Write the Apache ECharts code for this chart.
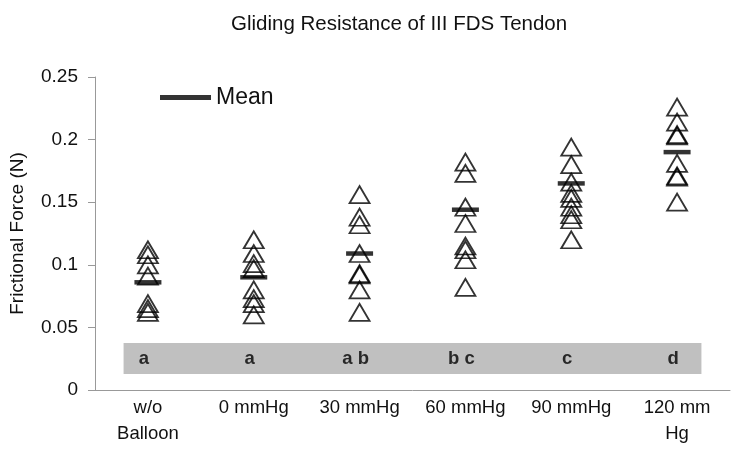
<!DOCTYPE html>
<html>
<head>
<meta charset="utf-8">
<script src="https://cdn.jsdelivr.net/npm/echarts@6/dist/echarts.min.js"></script>
<style>
  html, body { margin: 0; padding: 0; background: #fff; }
  #chart { width: 738px; height: 466px; }
</style>
</head>
<body>
<div id="chart"></div>
<script>
// groups on the x axis
const categories = ['w/o\nBalloon', '0 mmHg', '30 mmHg', '60 mmHg', '90 mmHg', '120 mm\nHg']
// frictional force of each specimen (N)
const forces = [
  [0.112, 0.108, 0.100, 0.091, 0.069, 0.065, 0.062],
  [0.120, 0.109, 0.101, 0.097, 0.080, 0.073, 0.069, 0.060],
  [0.156, 0.138, 0.132, 0.109, 0.093, 0.092, 0.080, 0.062],
  [0.182, 0.173, 0.146, 0.133, 0.115, 0.112, 0.104, 0.082],
  [0.194, 0.180, 0.166, 0.157, 0.153, 0.146, 0.140, 0.136, 0.120],
  [0.226, 0.214, 0.204, 0.203, 0.181, 0.171, 0.170, 0.150]
]
const means = [0.086, 0.090, 0.109, 0.144, 0.165, 0.190]
// significance groups shown in the grey band
const groupLetters = ['a', 'a', 'a b', 'b c', 'c', 'd']
const letterLevel = 0.025
const yTicks = { min: 0, max: 0.25, interval: 0.05 }

const font = 'Liberation Sans, Arial, sans-serif'

const pointData = []
forces.forEach((list, i) => {
  list.forEach(v => pointData.push([i, v]))
})

const chart = echarts.init(document.getElementById('chart'))
chart.setOption({
  animation: false,
  backgroundColor: '#fff',
  textStyle: { fontFamily: font },
  title: {
    text: 'Gliding Resistance of III FDS Tendon',
    left: 226,
    top: 9,
    textStyle: { fontFamily: font, fontSize: 20.5, fontWeight: 'normal', color: '#111' }
  },
  legend: {
    data: ['Mean'],
    left: 155,
    top: 81,
    icon: 'rect',
    itemWidth: 51,
    itemHeight: 5,
    textStyle: { fontFamily: font, fontSize: 23, color: '#111' }
  },
  grid: { left: 95, right: 8, top: 77, bottom: 76, containLabel: false, outerBoundsMode: 'none' },
  xAxis: [
    {
      type: 'category',
      data: categories,
      boundaryGap: true,
      axisLine: { lineStyle: { color: '#999' } },
      axisTick: { length: 5, lineStyle: { color: '#999' } },
      axisLabel: { fontFamily: font, fontSize: 18.5, color: '#111', lineHeight: 26, margin: 5, interval: 0 }
    },
    {
      // hidden linear axis, only used to place the grey band
      type: 'value',
      min: 0,
      max: 6,
      show: false
    }
  ],
  yAxis: {
    type: 'value',
    min: yTicks.min,
    max: yTicks.max,
    interval: yTicks.interval,
    name: 'Frictional Force (N)',
    nameLocation: 'middle',
    nameGap: 68,
    nameTextStyle: { fontFamily: font, fontSize: 19, color: '#111' },
    splitLine: { show: false },
    axisLine: { show: true, lineStyle: { color: '#999' } },
    axisTick: { show: true, length: 7, lineStyle: { color: '#999' } },
    axisLabel: { fontFamily: font, fontSize: 19, color: '#111', margin: 17 }
  },
  series: [
    {
      name: 'band',
      type: 'line',
      xAxisIndex: 1,
      data: [],
      silent: true,
      markArea: {
        silent: true,
        itemStyle: { color: '#c0c0c0' },
        data: [[{ xAxis: 0.27, yAxis: 0.0128 }, { xAxis: 5.73, yAxis: 0.0375 }]]
      }
    },
    {
      name: 'letters',
      type: 'scatter',
      symbolSize: 0,
      data: groupLetters.map((t, i) => ({ value: [i, letterLevel], name: t })),
      label: {
        show: true,
        position: 'inside',
        offset: [-4, 0],
        formatter: p => p.name,
        fontFamily: font,
        fontSize: 18.5,
        fontWeight: 'bold',
        color: '#000'
      },
      z: 3
    },
    {
      name: 'Force',
      type: 'scatter',
      symbol: 'triangle',
      symbolSize: [20, 17],
      data: pointData,
      itemStyle: { color: 'rgba(0,0,0,0)', borderColor: '#000', borderWidth: 1.8 },
      z: 4
    },
    {
      name: 'Mean',
      type: 'scatter',
      symbol: 'rect',
      symbolSize: [27, 4.5],
      data: means.map((v, i) => [i, v]),
      itemStyle: { color: '#000' },
      z: 5
    }
  ]
})
</script>
</body>
</html>
